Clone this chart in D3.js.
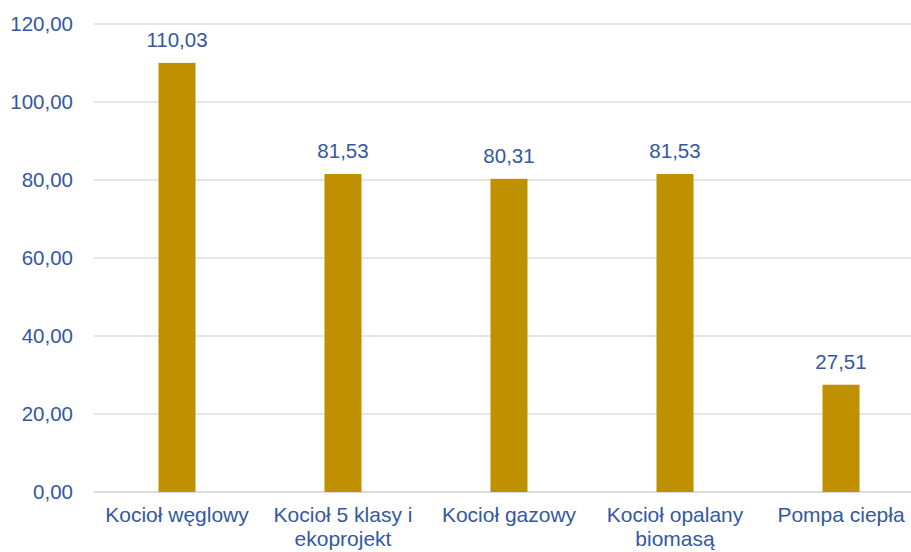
<!DOCTYPE html>
<html>
<head>
<meta charset="utf-8">
<script src="https://cdn.jsdelivr.net/npm/d3@7"></script>
<style>
  body { margin: 0; background: #fff; }
  svg { display: block; }
  text { font-family: "Liberation Sans", Arial, sans-serif; }
</style>
</head>
<body>
<div id="chart"></div>
<script>
  const categories = ["Kocioł węglowy", "Kocioł 5 klasy i\nekoprojekt", "Kocioł gazowy", "Kocioł opalany\nbiomasą", "Pompa ciepła"];
  const values = [110.03, 81.53, 80.31, 81.53, 27.51];
  const yTicks = [0, 20, 40, 60, 80, 100, 120];

  const W = 911, H = 552;
  const margin = {top: 24, right: -13, bottom: 60, left: 94};
  const width = W - margin.left - margin.right;
  const height = H - margin.top - margin.bottom;

  const fmt = function (v) { return d3.format(".2f")(v).replace(".", ","); };

  const svg = d3.select("#chart").append("svg")
    .attr("width", W)
    .attr("height", H);

  const g = svg.append("g")
    .attr("transform", "translate(" + margin.left + "," + margin.top + ")");

  const x = d3.scaleBand().domain(categories).range([0, width]).paddingInner(0.777).paddingOuter(0.3885);
  const y = d3.scaleLinear().domain([0, 120]).range([height, 0]);

  // grid
  g.selectAll(".grid")
    .data(yTicks).enter()
    .append("line")
      .attr("x1", 0).attr("x2", width)
      .attr("y1", function (d) { return y(d); })
      .attr("y2", function (d) { return y(d); })
      .attr("stroke", function (d) { return d === 0 ? "#d0d0d0" : "#dcdcdc"; })
      .attr("stroke-width", 1.3);

  // y labels
  g.selectAll(".ylab")
    .data(yTicks).enter()
    .append("text")
      .attr("x", -21)
      .attr("y", function (d) { return y(d); })
      .attr("dy", "0.36em")
      .attr("text-anchor", "end")
      .attr("fill", "#3558a0")
      .style("font-size", "20.5px")
      .text(fmt);

  // bars
  g.selectAll(".bar")
    .data(values).enter()
    .append("rect")
      .attr("x", function (d, i) { return x(categories[i]); })
      .attr("width", x.bandwidth())
      .attr("y", function (d) { return y(d); })
      .attr("height", function (d) { return height - y(d); })
      .attr("fill", "#bf9000");

  // value labels
  g.selectAll(".val")
    .data(values).enter()
    .append("text")
      .attr("x", function (d, i) { return x(categories[i]) + x.bandwidth() / 2; })
      .attr("y", function (d) { return y(d) - 16; })
      .attr("text-anchor", "middle")
      .attr("fill", "#3558a0")
      .style("font-size", "20.5px")
      .text(fmt);

  // category labels
  const cat = g.selectAll(".cat")
    .data(categories).enter()
    .append("text")
      .attr("text-anchor", "middle")
      .attr("fill", "#3558a0")
      .style("font-size", "21px")
      .attr("transform", function (d) { return "translate(" + (x(d) + x.bandwidth() / 2) + "," + (height + 30) + ")"; });

  cat.selectAll("tspan")
    .data(function (d) { return d.split("\n"); }).enter()
    .append("tspan")
      .attr("x", 0)
      .attr("y", function (d, i) { return i * 24; })
      .text(function (d) { return d; });
</script>
</body>
</html>
